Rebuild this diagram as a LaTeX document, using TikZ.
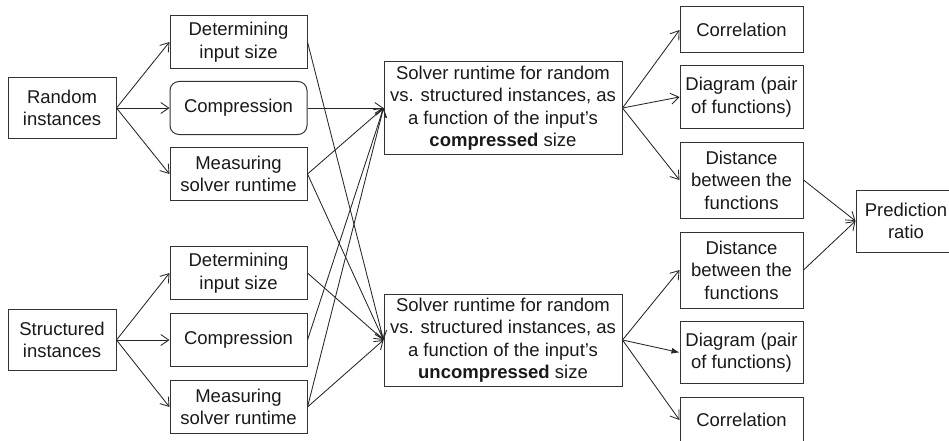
\documentclass[tikz,border=0pt]{standalone}
\usepackage{fontspec}
\setmainfont{Liberation Sans}
\usetikzlibrary{arrows.meta, positioning}

\begin{document}
\begin{tikzpicture}[
  x=1pt, y=-1pt,
  box/.style    = {draw=black!80, line width=1pt, align=center, inner sep=0pt,
                   text=black!90, font=\fontsize{18.5}{22.5}\selectfont},
  src/.style    = {box, minimum width=108pt, minimum height=61pt},
  task/.style   = {box, minimum width=137pt, minimum height=53pt},
  res/.style    = {box, minimum width=238pt, minimum height=92pt},
  measure/.style= {box, minimum width=123pt},
  arrow/.style  = {black!85, line width=0.85pt, -{Straight Barb[length=8pt, width=11pt]}},
  arrowf/.style = {black!85, line width=0.85pt, -{Latex[length=8pt, width=6pt]}},
  node distance=12pt and 53pt
]
  \useasboundingbox (0,0) rectangle (949,441);

  % Random instances
  \node[src] (rand) at (62,108) {Random\\instances};
  \node[task, rounded corners=9pt, right=of rand] (comp1) {Compression};
  \node[task, above=of comp1] (size1) {Determining\\input size};
  \node[task, below=of comp1] (meas1) {Measuring\\solver runtime};

  % Structured instances
  \node[src] (struct) at (62,340) {Structured\\instances};
  \node[task, right=of struct] (comp2) {Compression};
  \node[task, above=13pt of comp2] (size2) {Determining\\input size};
  \node[task, below=13pt of comp2] (meas2) {Measuring\\solver runtime};

  % Runtime as function of input size
  \node[res, right=76pt of comp1] (rtcomp) {Solver runtime for random\\vs. structured instances, as\\a function of the input's\\\textbf{compressed} size};
  \node[res, right=76pt of comp2] (rtunc) {Solver runtime for random\\vs. structured instances, as\\a function of the input's\\\textbf{uncompressed} size};

  % Measures
  \node[measure, minimum height=46pt] (corr1) at (741.5,30)  {Correlation};
  \node[measure, minimum height=62pt] (diag1) at (741.5,97)  {Diagram (pair\\of functions)};
  \node[measure, minimum height=76pt] (dist1) at (741.5,180) {Distance\\between the\\functions};
  \node[measure, minimum height=76pt] (dist2) at (741.5,270) {Distance\\between the\\functions};
  \node[measure, minimum height=62pt] (diag2) at (741.5,352.5) {Diagram (pair\\of functions)};
  \node[measure, minimum height=46pt] (corr2) at (741.5,420) {Correlation};

  % Prediction ratio (cut off at the right)
  \node[box, minimum width=100pt, minimum height=62pt] (pred) at (906,221) {Prediction\\ratio};

  % Connections
  \foreach \t in {size1, comp1, meas1}
    \draw[arrow] (rand.east) -- (\t.west);
  \foreach \t in {size2, comp2, meas2}
    \draw[arrow] (struct.east) -- (\t.west);
  \foreach \s in {comp1, meas1, comp2, meas2}
    \draw[arrow] (\s.east) -- (rtcomp.west);
  \foreach \s in {size1, meas1, size2, meas2}
    \draw[arrow] (\s.east) -- (rtunc.west);
  \foreach \t in {corr1, diag1, dist1}
    \draw[arrow] (rtcomp.east) -- (\t.west);
  \draw[arrow] (rtunc.east) -- (dist2.west);
  \draw[arrowf] (rtunc.east) -- (diag2.west);
  \draw[arrow] (rtunc.east) -- (corr2.west);
  \draw[arrow] (dist1.east) -- (pred.west);
  \draw[arrow] (dist2.east) -- (pred.west);

\end{tikzpicture}
\end{document}
